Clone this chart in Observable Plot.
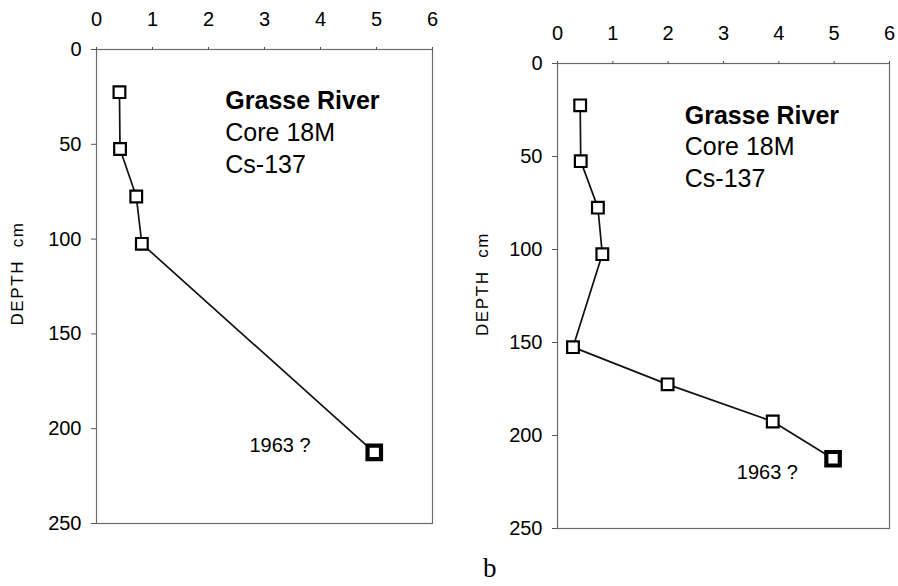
<!DOCTYPE html>
<html>
<head>
<meta charset="utf-8">
<script src="https://cdn.jsdelivr.net/npm/d3@7"></script>
<script src="https://cdn.jsdelivr.net/npm/@observablehq/plot@0.6"></script>
<style>
  html, body { margin: 0; padding: 0; background: #fff; }
  #fig { position: relative; width: 898px; height: 586px; overflow: hidden; background: #fff; }
  #fig svg { position: absolute; top: 0; }
  #caption { position: absolute; left: 483px; top: 553px; font-family: "Liberation Serif", "Times New Roman", serif; font-size: 27px; line-height: 30px; color: #000; }
</style>
</head>
<body>
<div id="fig"><div id="caption">b</div></div>
<script>
// Cs-137 activity versus depth, Grasse River core 18M
const depthA = [22.5, 52.5, 77.5, 102.5, 212.5];
const csA = [0.41, 0.42, 0.71, 0.81, 4.96];

const depthB = [22.5, 52.5, 77.5, 102.5, 152.5, 172.5, 192.5, 212.5];
const csB = [0.41, 0.42, 0.73, 0.81, 0.28, 1.99, 3.89, 4.98];

const xTicks = [0, 1, 2, 3, 4, 5, 6];
const yTicks = [0, 50, 100, 150, 200, 250];
const titleLines = ["Grasse River", "Core 18M", "Cs-137"];
const yLabel = "DEPTH  cm";
const note = "1963 ?";

const FONT = "'Liberation Sans', Arial, Helvetica, sans-serif";

function panel({depth, cs, left, width, margins, titleY, noteAt, labelOffset}) {
  const rows = depth.map((d, i) => ({depth: d, cs: cs[i], last: i === depth.length - 1}));
  const [mt, mr, mb, ml] = margins;
  const chart = Plot.plot({
    width,
    height: 586,
    marginTop: mt,
    marginRight: mr,
    marginBottom: mb,
    marginLeft: ml,
    style: {fontFamily: FONT, background: "transparent", color: "#000"},
    x: {domain: [0, 6], axis: null},
    y: {domain: [0, 250], reverse: true, axis: null},
    marks: [
      Plot.frame({stroke: "#6a6a6a", strokeWidth: 1.2}),
      Plot.axisX({anchor: "top", ticks: xTicks, tickSize: 3, tickPadding: 21, fontSize: 20, stroke: "#555", label: null, tickFormat: d => String(d)}),
      Plot.axisY({anchor: "left", ticks: yTicks, tickSize: 5, tickPadding: 10, fontSize: 20, stroke: "#555", label: null, tickFormat: d => String(d)}),
      Plot.text([yLabel], {frameAnchor: "left", textAnchor: "middle", text: d => d, rotate: -90, dx: labelOffset[0], dy: labelOffset[1], fontSize: 17, fill: "#000"}),
      Plot.line(rows, {x: "cs", y: "depth", stroke: "#111", strokeWidth: 1.7}),
      // regular samples
      Plot.dot(rows, {filter: d => !d.last, x: "cs", y: "depth", symbol: "square", r: 6.6, fill: "#fff", stroke: "#000", strokeWidth: 2.2}),
      // deepest sample, drawn heavier
      Plot.dot(rows, {filter: d => d.last, x: "cs", y: "depth", symbol: "square", r: 7.6, fill: "#fff", stroke: "#000", strokeWidth: 4.2}),
      Plot.text([titleLines[0]], {x: () => 2.3, y: () => titleY[0], text: d => d, textAnchor: "start", fontSize: 25, fontWeight: "bold", fill: "#000"}),
      Plot.text([titleLines[1]], {x: () => 2.3, y: () => titleY[1], text: d => d, textAnchor: "start", fontSize: 25, fill: "#000"}),
      Plot.text([titleLines[2]], {x: () => 2.3, y: () => titleY[2], text: d => d, textAnchor: "start", fontSize: 25, fill: "#000"}),
      Plot.text([note], {x: () => noteAt[0], y: () => noteAt[1], text: d => d, textAnchor: "start", fontSize: 20, fill: "#000"})
    ]
  });
  // spread the rotated depth label a little
  d3.select(chart).selectAll("text").filter(function () { return this.textContent === yLabel; })
    .attr("letter-spacing", "1.6px").style("white-space", "pre");
  chart.style.left = left + "px";
  return chart;
}

const fig = document.getElementById("fig");

fig.appendChild(panel({
  depth: depthA, cs: csA, left: 0, width: 449,
  margins: [49, 17, 63, 96],
  titleY: [27, 44, 61],
  noteAt: [2.73, 209],
  labelOffset: [-79, -13]
}));

fig.appendChild(panel({
  depth: depthB, cs: csB, left: 450, width: 448,
  margins: [63, 9, 58, 107],
  titleY: [28, 45, 62],
  noteAt: [3.24, 220],
  labelOffset: [-75, -12]
}));
</script>
</body>
</html>
